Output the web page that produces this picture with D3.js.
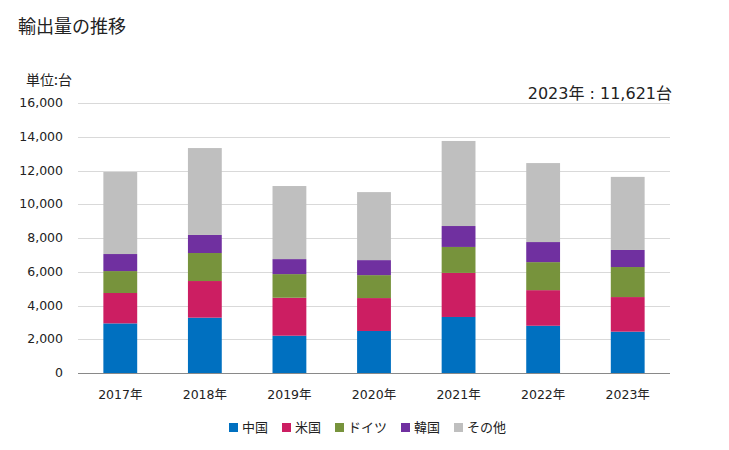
<!DOCTYPE html>
<html><head><meta charset="utf-8">
<script src="https://cdn.jsdelivr.net/npm/d3@7"></script>
<style>
body{margin:0;background:#fff;}
text{font-family:"DejaVu Sans","Noto Sans CJK JP",sans-serif;fill:#222;}
text.cjk{font-family:"Noto Sans CJK JP","Noto Sans",sans-serif;}
</style></head>
<body><svg id="chart" width="729" height="450"></svg>
<script>
const categories = ["2017年","2018年","2019年","2020年","2021年","2022年","2023年"];
const seriesNames = ["中国","米国","ドイツ","韓国","その他"];
const china   = [2940, 3280, 2210, 2490, 3320, 2800, 2450];
const usa     = [1800, 2170, 2250, 1950, 2610, 2110, 2050];
const germany = [1300, 1660, 1400, 1360, 1540, 1660, 1780];
const korea   = [1010, 1070,  890,  890, 1240, 1190, 1010];
const other   = [4860, 5150, 4330, 4030, 5040, 4680, 4331];
const yTicks  = [0,2000,4000,6000,8000,10000,12000,14000,16000];
const colors  = ["#0070c0","#cc1e62","#77933c","#7030a0","#bfbfbf"];

const svg = d3.select("#chart");
const pLeft = 78, pRight = 670, pTop = 103, pBottom = 373;

const rows = categories.map((c,i)=>({cat:c, "中国":china[i], "米国":usa[i], "ドイツ":germany[i], "韓国":korea[i], "その他":other[i]}));
const stack = d3.stack().keys(seriesNames)(rows);

const x = d3.scaleBand().domain(categories).range([pLeft,pRight]).paddingInner(0.6).paddingOuter(0.3);
const y = d3.scaleLinear().domain([0,16000]).range([pBottom,pTop]);

// grid
svg.append("g").selectAll("line").data(yTicks.filter(d=>d>0)).join("line")
  .attr("x1",pLeft).attr("x2",pRight)
  .attr("y1",d=>Math.round(y(d))+0.5).attr("y2",d=>Math.round(y(d))+0.5)
  .attr("stroke","#d9d9d9").attr("stroke-width",1);

// y labels
const fmt = d3.format(",");
svg.append("g").selectAll("text").data(yTicks).join("text")
  .attr("x",63).attr("y",d=>y(d)+4).attr("text-anchor","end")
  .attr("font-size",12.5).text(d=>fmt(d));

// bars
svg.append("g").selectAll("g").data(stack).join("g")
  .attr("fill",(d,i)=>colors[i])
  .selectAll("rect").data(d=>d).join("rect")
  .attr("x",d=>x(d.data.cat)).attr("width",x.bandwidth())
  .attr("y",d=>y(d[1])).attr("height",d=>y(d[0])-y(d[1]));

// baseline
svg.append("line").attr("x1",pLeft).attr("x2",pRight).attr("y1",pBottom+0.5).attr("y2",pBottom+0.5)
  .attr("stroke","#898989").attr("stroke-width",1);

// x labels
svg.append("g").selectAll("text").data(categories).join("text")
  .attr("x",d=>x(d)+x.bandwidth()/2).attr("y",399).attr("text-anchor","middle")
  .attr("font-size",12.5).text(d=>d);

// title
svg.append("text").attr("class","cjk").attr("x",18).attr("y",33).attr("font-size",18).text("輸出量の推移");
svg.append("text").attr("class","cjk").attr("x",26).attr("y",85).attr("font-size",14).text("単位:台");

// annotation
const total2023 = china[6]+usa[6]+germany[6]+korea[6]+other[6];
svg.append("text").attr("x",672).attr("y",99).attr("text-anchor","end").attr("font-size",16)
  .text("2023年 : "+fmt(total2023)+"台");

// legend
const legendX = [229,282,335,401,454];
const lg = svg.append("g").selectAll("g").data(seriesNames).join("g")
  .attr("transform",(d,i)=>`translate(${legendX[i]},0)`);
lg.append("rect").attr("x",0).attr("y",423).attr("width",9).attr("height",9).attr("fill",(d,i)=>colors[i]);
lg.append("text").attr("class","cjk").attr("x",13).attr("y",432).attr("font-size",13).text(d=>d);
</script></body></html>
